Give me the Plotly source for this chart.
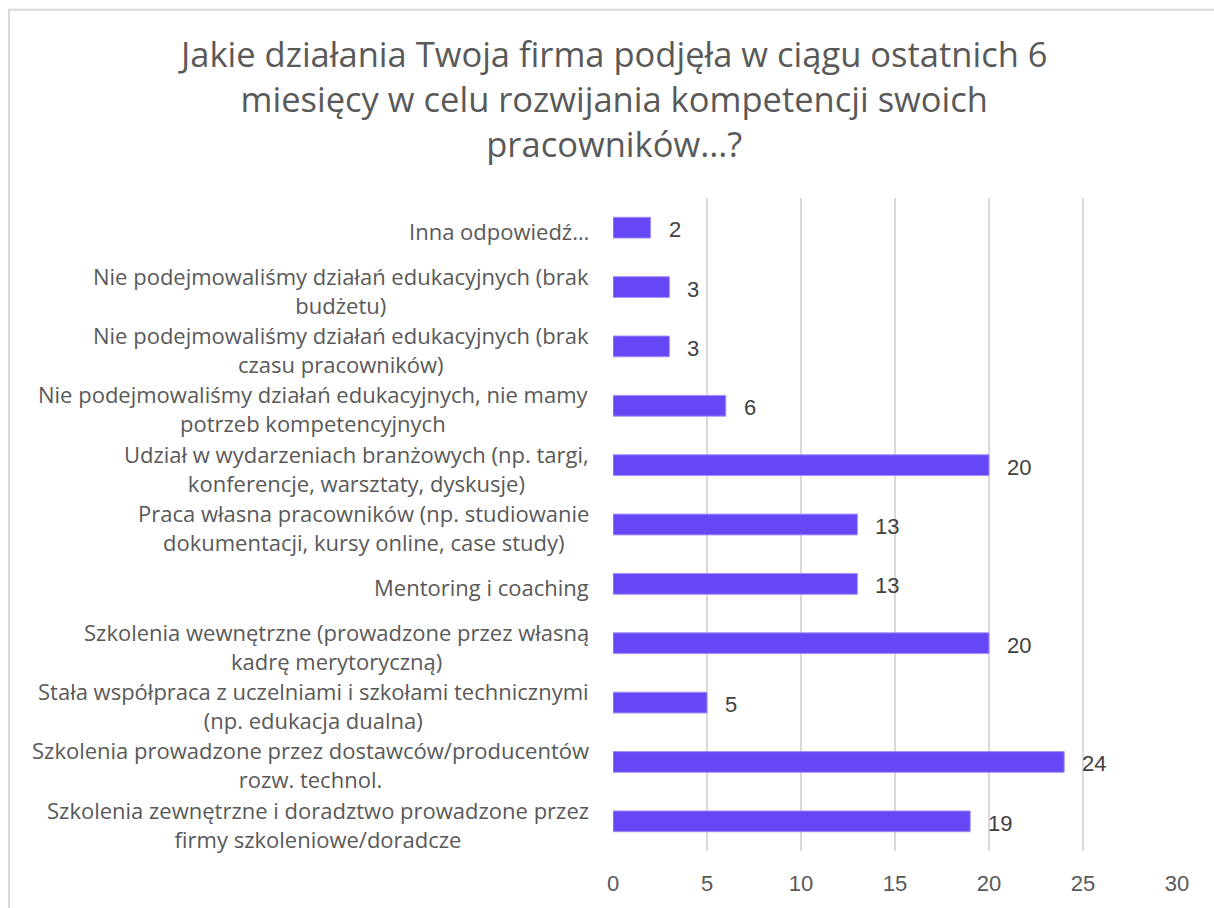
import plotly.graph_objects as go

# Survey answers, listed top to bottom as they appear on the chart
categories = [
    "Inna odpowiedź…",
    "Nie podejmowaliśmy działań edukacyjnych (brak<br>budżetu)",
    "Nie podejmowaliśmy działań edukacyjnych (brak<br>czasu pracowników)",
    "Nie podejmowaliśmy działań edukacyjnych, nie mamy<br>potrzeb kompetencyjnych",
    "Udział w wydarzeniach branżowych (np. targi,<br>konferencje, warsztaty, dyskusje)",
    "Praca własna pracowników (np. studiowanie<br>dokumentacji, kursy online, case study)",
    "Mentoring i coaching",
    "Szkolenia wewnętrzne (prowadzone przez własną<br>kadrę merytoryczną)",
    "Stała współpraca z uczelniami i szkołami technicznymi<br>(np. edukacja dualna)",
    "Szkolenia prowadzone przez dostawców/producentów<br>rozw. technol.",
    "Szkolenia zewnętrzne i doradztwo prowadzone przez<br>firmy szkoleniowe/doradcze",
]
counts = [2, 3, 3, 6, 20, 13, 13, 20, 5, 24, 19]
x_ticks = [0, 5, 10, 15, 20, 25, 30]

title_text = ("Jakie działania Twoja firma podjęła w ciągu ostatnich 6<br>"
              "miesięcy w celu rozwijania kompetencji swoich<br>pracowników...?")

W, H = 1214, 908
L, R, T, B = 613, 37, 198, 51
plot_w = W - L - R
plot_h = H - T - B

fig = go.Figure(
    go.Bar(
        x=counts,
        y=categories,
        orientation="h",
        marker=dict(color="#6646F5", line=dict(color="#A591F8", width=1)),
        hoverinfo="x+y",
    )
)

annotations = []
# chart title, three centred lines above the plot
annotations.append(dict(
    x=0, xref="paper", y=1 + (T - 98) / plot_h, yref="paper",
    text=title_text, showarrow=False,
    xanchor="center", yanchor="middle", align="center",
    font=dict(family="Open Sans", size=34.5, color="#595959"),
))
# category labels, centred per line and right-aligned against the plot
for cat in categories:
    annotations.append(dict(
        x=0, xref="paper", y=cat, yref="y",
        text=cat, showarrow=False,
        xanchor="right", yanchor="middle", align="center",
        xshift=-22, yshift=-3,
        font=dict(family="Open Sans", size=22, color="#595959"),
    ))
# value labels just past each bar end
for cat, v in zip(categories, counts):
    annotations.append(dict(
        x=v, xref="x", y=cat, yref="y",
        text=str(v), showarrow=False,
        xanchor="left", yanchor="middle",
        xshift=16, yshift=-2,
        font=dict(family="Liberation Sans", size=22, color="#404040"),
    ))

# chart frame
frame_left = (9 - L) / plot_w
frame_top = 1 + (T - 8) / plot_h

fig.update_layout(
    width=W, height=H,
    margin=dict(l=L, r=R, t=T, b=B, pad=0),
    paper_bgcolor="white",
    plot_bgcolor="white",
    showlegend=False,
    bargap=0.65,
    xaxis=dict(
        range=[0, 30],
        tickvals=x_ticks,
        showgrid=True, gridcolor="#D9D9D9", gridwidth=1.5,
        zeroline=False, showline=False,
        ticks="", ticklabelstandoff=17,
        tickfont=dict(family="Liberation Sans", size=22, color="#595959"),
        fixedrange=True,
    ),
    yaxis=dict(
        autorange="reversed",
        showticklabels=False,
        showgrid=False, zeroline=False, showline=False, ticks="",
        fixedrange=True,
    ),
    annotations=annotations,
    shapes=[dict(
        type="rect", xref="paper", yref="paper",
        x0=frame_left, x1=2, y0=-1, y1=frame_top,
        line=dict(color="#D9D9D9", width=2),
        fillcolor="rgba(0,0,0,0)", layer="below",
    )],
)

fig.write_html("out.html")
